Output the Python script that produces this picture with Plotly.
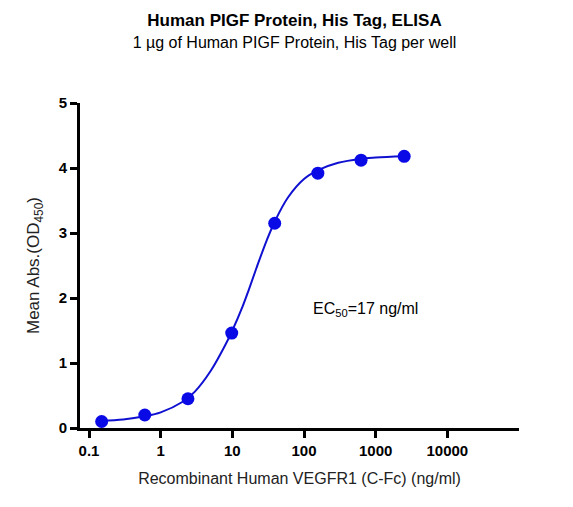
import plotly.graph_objects as go

conc = [0.15, 0.6, 2.4, 9.8, 39, 156, 625, 2500]
absorb = [0.10, 0.20, 0.45, 1.46, 3.15, 3.92, 4.12, 4.18]

fit_x = [0.15, 0.3, 0.6, 1, 2, 3, 5, 8, 10, 14, 17, 22, 30, 40, 60, 100, 160, 300, 600, 1000, 2500]
fit_y = [0.11, 0.13, 0.18, 0.24, 0.40, 0.56, 0.88, 1.28, 1.50, 1.88, 2.13, 2.48, 2.88, 3.20, 3.55, 3.83, 3.97, 4.08, 4.14, 4.16, 4.18]

fig = go.Figure()
fig.add_trace(go.Scatter(x=fit_x, y=fit_y, mode="lines", line=dict(color="#1010d0", width=2, shape="spline"), showlegend=False))
fig.add_trace(go.Scatter(x=conc, y=absorb, mode="markers", marker=dict(color="#0a0ae6", size=13), showlegend=False))

# log axis: annotation x is given as log10 value
fig.add_annotation(x=2.1, y=1.82, xref="x", yref="y", showarrow=False, text="EC<sub>50</sub>=17 ng/ml",
                   font=dict(size=16, color="black"), xanchor="left")

axis_style = dict(showline=True, linewidth=3, linecolor="black", ticks="outside", tickwidth=3, ticklen=7,
                  tickcolor="black", showgrid=False, zeroline=False,
                  tickfont=dict(size=15, color="black", family="Liberation Sans, Arial"))
fig.update_xaxes(type="log", range=[-1.126, 5.0], tickvals=[0.1, 1, 10, 100, 1000, 10000],
                 ticktext=["<b>0.1</b>", "<b>1</b>", "<b>10</b>", "<b>100</b>", "<b>1000</b>", "<b>10000</b>"],
                 title=dict(text="Recombinant Human VEGFR1 (C-Fc) (ng/ml)", font=dict(size=16, color="#222")),
                 **axis_style)
fig.update_yaxes(range=[0, 5], tickvals=[0, 1, 2, 3, 4, 5],
                 ticktext=["<b>0</b>", "<b>1</b>", "<b>2</b>", "<b>3</b>", "<b>4</b>", "<b>5</b>"],
                 title=dict(text="Mean Abs.(OD<sub>450</sub>)", font=dict(size=17, color="#222")),
                 **axis_style)
fig.update_layout(
    width=573, height=507, plot_bgcolor="white", paper_bgcolor="white",
    font=dict(family="Liberation Sans, Arial", color="black"),
    margin=dict(l=72, r=62, t=95, b=87),
    title=dict(text="<b>Human PIGF Protein, His Tag, ELISA</b><br><span style='font-size:16px'>1 µg of Human PIGF Protein, His Tag per well</span>",
               x=0.5, xanchor="center", y=0.965, yanchor="top", font=dict(size=17, color="black")),
)
fig.write_html("out.html")
